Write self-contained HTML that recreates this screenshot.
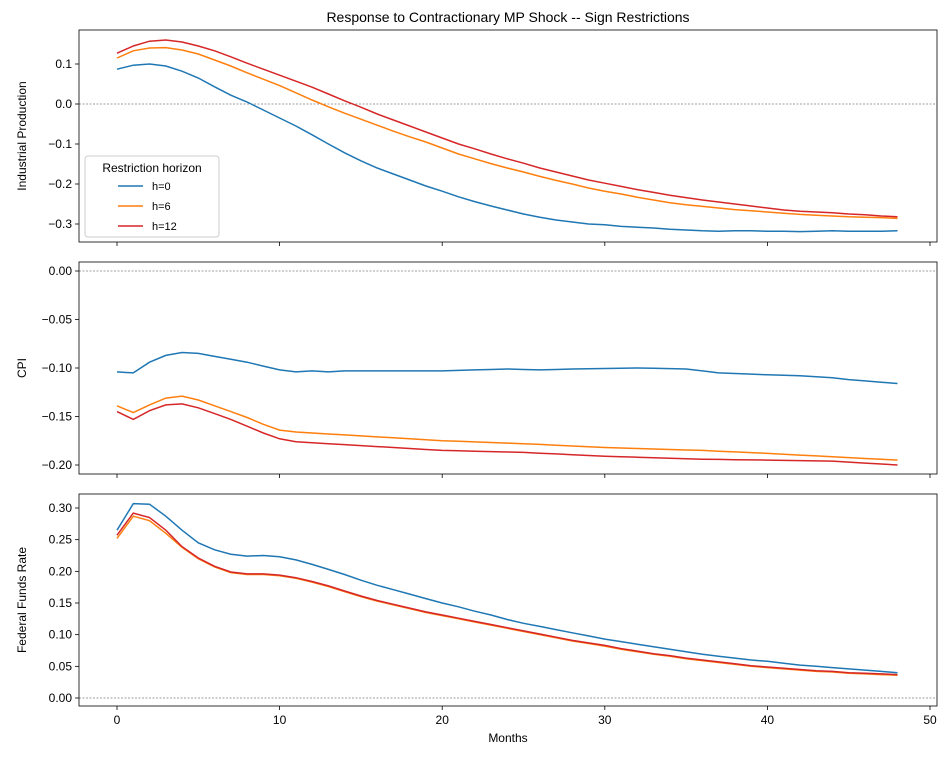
<!DOCTYPE html>
<html><head><meta charset="utf-8"><style>
body{margin:0;background:#fff;}
svg{display:block;font-family:"Liberation Sans",sans-serif;}
</style></head><body>
<svg id="s" width="949" height="758" xmlns="http://www.w3.org/2000/svg"></svg>
<script>
const S=document.getElementById('s');let h='';
const X0=79,X1=937;const xm=m=>117+m*16.26;
function lerp(pts){const a=[];for(let i=0;i<pts.length-1;i++){const[m0,v0]=pts[i],[m1,v1]=pts[i+1];for(let m=m0;m<m1;m++)a.push(v0+(v1-v0)*(m-m0)/(m1-m0));}a.push(pts[pts.length-1][1]);return a;}
const ip0=[.087,.097,.1,.095,.082,.065,.043,.022,.005,-.015,-.035,-.055,-.077,-.1,-.122,-.142,-.16,-.175,-.19,-.205,-.218,-.232,-.244,-.255,-.265,-.275,-.283,-.29,-.295,-.3,-.302,-.306,-.308,-.31,-.313,-.315,-.317,-.318,-.317,-.317,-.318,-.318,-.319,-.318,-.317,-.318,-.318,-.318,-.317];
const ip6=[.115,.133,.14,.141,.135,.125,.11,.095,.078,.062,.046,.028,.01,-.007,-.023,-.038,-.053,-.068,-.082,-.095,-.11,-.125,-.137,-.149,-.16,-.17,-.181,-.191,-.2,-.21,-.218,-.225,-.233,-.24,-.247,-.252,-.256,-.26,-.264,-.267,-.27,-.273,-.276,-.278,-.28,-.282,-.283,-.284,-.286];
const ip12=[.127,.145,.157,.16,.155,.145,.133,.118,.102,.087,.072,.057,.042,.025,.008,-.008,-.025,-.04,-.055,-.07,-.085,-.1,-.112,-.125,-.137,-.148,-.16,-.17,-.18,-.19,-.198,-.206,-.214,-.221,-.228,-.234,-.24,-.245,-.25,-.255,-.26,-.265,-.268,-.27,-.272,-.275,-.277,-.28,-.282];
const c0=[-.104,-.105,-.094,-.087,-.084,-.085,-.088,-.091,-.094,-.098,-.102,-.104,-.103,-.104,-.103].concat(lerp([[14,-.103],[20,-.103],[24,-.101],[26,-.102],[28,-.101],[32,-.1],[35,-.101],[37,-.105],[40,-.107],[42,-.108],[44,-.11],[45,-.112],[48,-.116]]).slice(1));
const c6=[-.139,-.146,-.138,-.131,-.129,-.133,-.139,-.145,-.151,-.158,-.164,-.166,-.167,-.168,-.169].concat(lerp([[14,-.169],[20,-.175],[25,-.178],[30,-.182],[36,-.185],[40,-.188],[48,-.195]]).slice(1));
const c12=[-.145,-.153,-.144,-.138,-.137,-.141,-.147,-.153,-.16,-.167,-.173,-.176,-.177,-.178,-.179].concat(lerp([[14,-.179],[20,-.185],[25,-.187],[30,-.191],[36,-.194],[44,-.196],[48,-.2]]).slice(1));
const f0=[.265,.307,.306,.287,.265,.245,.234,.227,.224,.225,.223,.218,.211,.203,.195,.186,.178,.171,.164,.157,.15,.144,.137,.131,.124,.118,.113,.108,.103,.098,.093,.089,.085,.081,.077,.073,.069,.066,.063,.06,.058,.055,.052,.05,.048,.046,.044,.042,.04];
const f6=[.252,.287,.28,.26,.238,.22,.207,.198,.195,.195,.193,.189,.183,.176,.168,.16,.153,.147,.141,.135,.13,.125,.12,.115,.11,.105,.1,.095,.09,.086,.082,.077,.073,.069,.066,.062,.059,.056,.053,.05,.048,.046,.044,.042,.041,.039,.038,.037,.036];
const f12=f6.map((v,i)=>v+(i<4?.005:.001));
const cols=['#1f77b4','#ff7f0e','#d62728'];
function panel(y0,y1,vy,ticks,fmt,series,label,xl){
 h+=`<line x1="${X0}" x2="${X1}" y1="${vy(0)}" y2="${vy(0)}" stroke="#808080" stroke-width="0.8" stroke-dasharray="2,1.5"/>`;
 series.forEach((d,k)=>{h+=`<polyline fill="none" stroke="${cols[k]}" stroke-width="1.5" points="${d.map((v,i)=>xm(i).toFixed(1)+','+vy(v).toFixed(1)).join(' ')}"/>`;});
 h+=`<rect x="${X0}" y="${y0}" width="${X1-X0}" height="${y1-y0}" fill="none" stroke="#000" stroke-width="0.8"/>`;
 ticks.forEach(t=>{const y=vy(t);h+=`<line x1="${X0-4}" x2="${X0}" y1="${y}" y2="${y}" stroke="#000" stroke-width="0.8"/><text x="${X0-7}" y="${y+4}" font-size="12" text-anchor="end">${fmt(t)}</text>`;});
 [0,10,20,30,40,50].forEach(m=>{h+=`<line x1="${xm(m)}" x2="${xm(m)}" y1="${y1}" y2="${y1+4}" stroke="#000" stroke-width="0.8"/>`;if(xl)h+=`<text x="${xm(m)}" y="${y1+18}" font-size="12" text-anchor="middle">${m}</text>`;});
 const cy=(y0+y1)/2;h+=`<text transform="translate(26,${cy}) rotate(-90)" font-size="12" text-anchor="middle">${label}</text>`;
}
const neg=s=>s.replace('-','−');
panel(30,242,v=>104-v*400,[.1,0,-.1,-.2,-.3],t=>neg(t.toFixed(1)),[ip0,ip6,ip12],'Industrial Production',false);
panel(262,474,v=>271-v*970,[0,-.05,-.1,-.15,-.2],t=>neg(t.toFixed(2)),[c0,c6,c12],'CPI',false);
panel(494,706,v=>698-v*633.3,[0,.05,.1,.15,.2,.25,.3],t=>t.toFixed(2),[f0,f6,f12],'Federal Funds Rate',true);
h+=`<text x="508" y="742" font-size="12" text-anchor="middle">Months</text>`;
h+=`<text x="508" y="22" font-size="14" text-anchor="middle">Response to Contractionary MP Shock -- Sign Restrictions</text>`;
h+=`<rect x="85" y="156" width="134" height="81" rx="3" fill="#fff" fill-opacity="0.8" stroke="#ccc"/>`;
h+=`<text x="152" y="172" font-size="12" text-anchor="middle">Restriction horizon</text>`;
['h=0','h=6','h=12'].forEach((l,k)=>{const y=186+k*20;h+=`<line x1="118" x2="143" y1="${y}" y2="${y}" stroke="${cols[k]}" stroke-width="1.5"/><text x="152" y="${y+4}" font-size="11">${l}</text>`;});
S.innerHTML=h;
</script>
</body></html>
